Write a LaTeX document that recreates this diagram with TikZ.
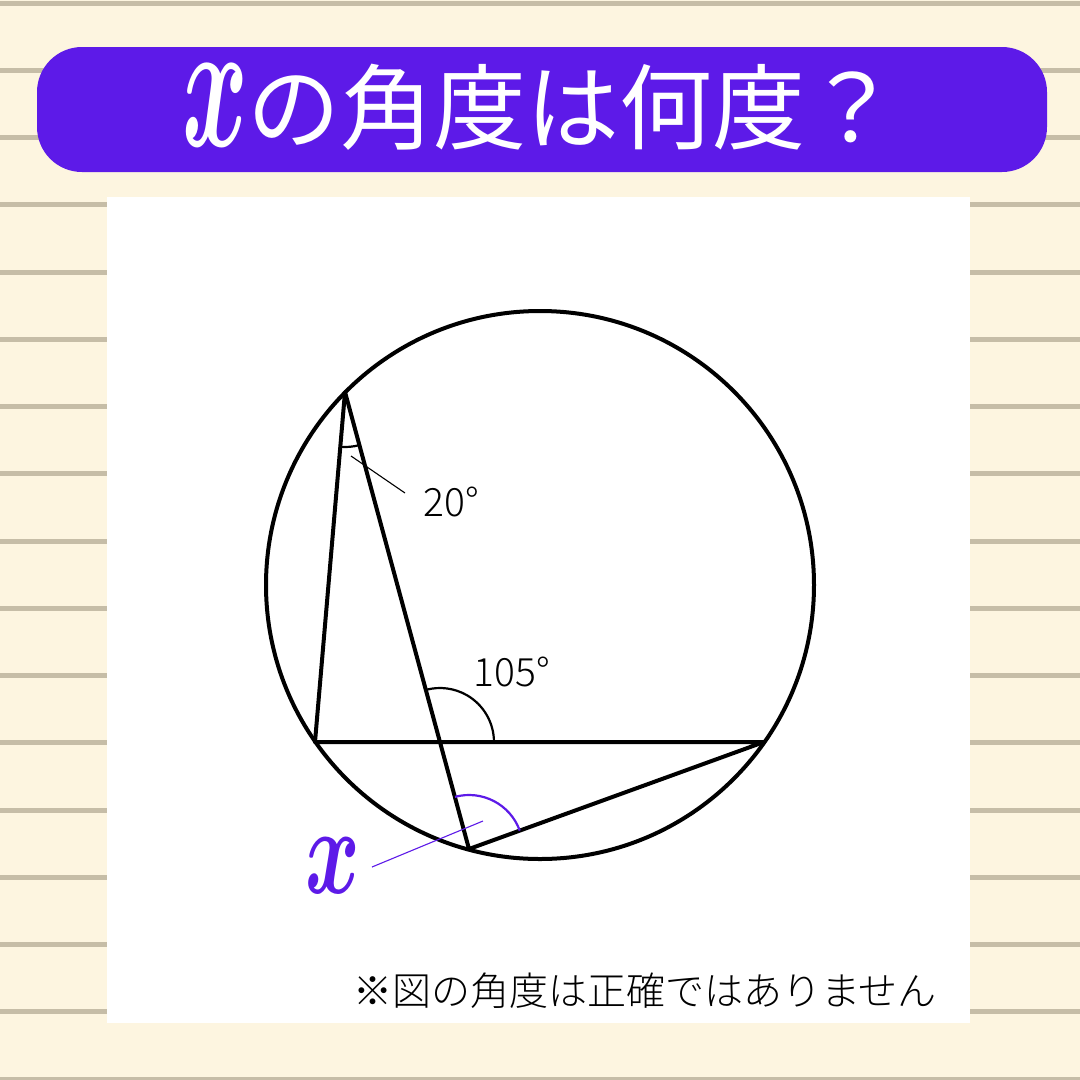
\documentclass[tikz,border=0pt]{standalone}
\usepackage{fontspec}
\usepackage{bm}
\setmainfont{Noto Sans CJK JP}
\newfontfamily\jpfont{Noto Sans CJK JP}
\newfontfamily\jplight{Noto Sans CJK JP Light}
\usepackage{graphicx}
\definecolor{paper}{HTML}{FDF5E0}
\definecolor{ruleline}{HTML}{C6BDA7}
\definecolor{banner}{HTML}{5D1AE8}

\begin{document}
\begin{tikzpicture}[x=1pt, y=-1pt,
    geoline/.style={line width=4, black, line join=round},
    anglearc/.style={line width=2.2},
    leader/.style={line width=1.1},
    anglelabel/.style={inner sep=0, font=\jplight\fontsize{39}{39}\selectfont}]
    \useasboundingbox (0,0) rectangle (1080,1080);

    % Paper and rules:
    \fill[paper] (0,0) rectangle (1080,1080);
    \foreach \k in {0,...,16}
        \fill[ruleline] (0,{0.5+67.25*\k}) rectangle (1080,{5.5+67.25*\k});

    % Title:
    \fill[banner, rounded corners=45] (37,47) rectangle (1047,172);
    \node[inner sep=0, text=white] (titlex) at (215,105)
        {\scalebox{10}[18.5]{$\bm{x}$}};
    \node[anchor=base west, inner sep=0, text=white,
          font=\jpfont\fontsize{93}{93}\selectfont] (title) at (247,142)
        {の角度は何度？};

    \fill[white] (107,197) rectangle (970,1023);

    % Circle and points:
    \coordinate (O) at (540,585);
    \coordinate (A) at (345,392);
    \coordinate (B) at (315,742);
    \coordinate (C) at (764,742);
    \coordinate (D) at (469,849);
    \coordinate (E) at (intersection of A--D and B--C);
    \draw[geoline] (O) circle[radius=274];
    \draw[geoline] (A) -- (B) -- (C) -- (D) -- cycle;

    % Angles:
    \draw[anglearc] (A) ++(75:55) arc[start angle=75, end angle=95, radius=55];
    \draw[anglearc] (E) ++(0:54) arc[start angle=0, end angle=-105, radius=54];
    \draw[anglearc, banner] (D) ++(-20:54) arc[start angle=-20, end angle=-105, radius=54];

    \node[anglelabel] (t20) at (451,502) {20°};
    \coordinate (l20a) at (351,456);
    \coordinate (l20b) at (405,493);
    \draw[leader] (l20a) -- (l20b);
    \node[anglelabel] (t105) at (512,672) {105°};

    \node[inner sep=0, text=banner] (xlabel) at (333,866)
        {\scalebox{8.3}[12.5]{$\bm{x}$}};
    \coordinate (lxa) at (483,821);
    \coordinate (lxb) at (372,867);
    \draw[leader, banner] (lxa) -- (lxb);

    \node[inner sep=0, font=\jplight\fontsize{39}{39}\selectfont] (note) at (645,991)
        {※図の角度は正確ではありません};
\end{tikzpicture}
\end{document}
